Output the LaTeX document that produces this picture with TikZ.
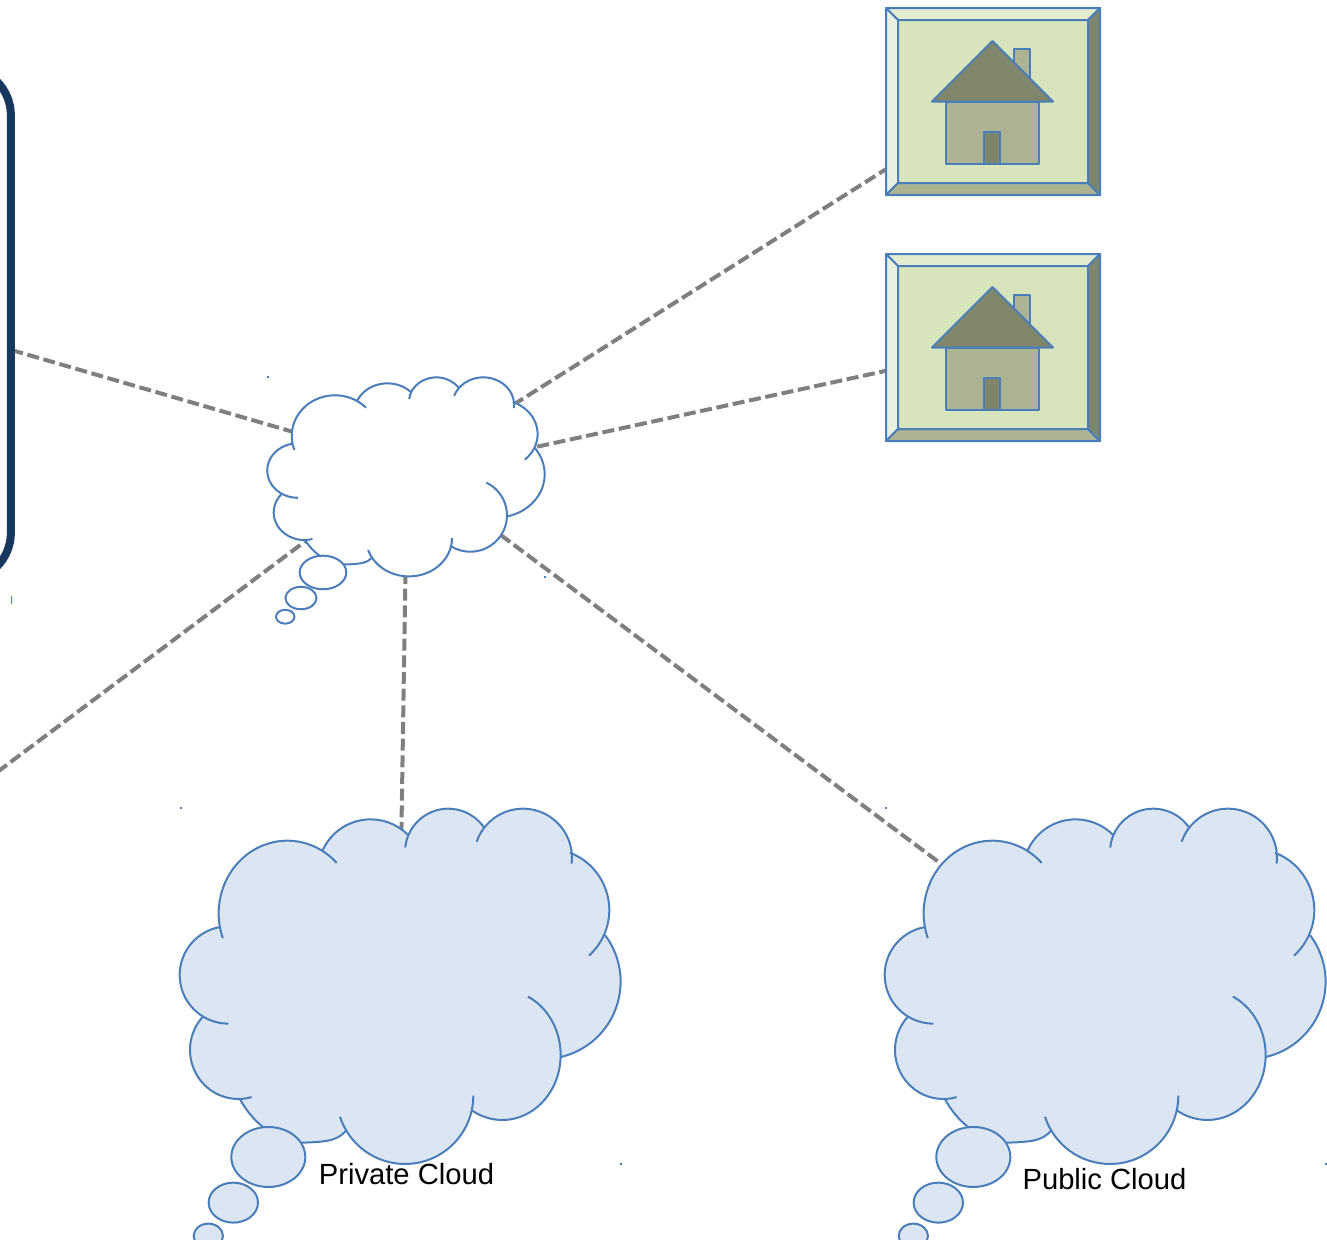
\documentclass[tikz,border=0pt]{standalone}
\usepackage{fontspec}
\setmainfont{Liberation Sans}
\definecolor{colorOutline}{HTML}{4A7EBB}
\definecolor{colorCloud}{HTML}{DCE6F2}
\definecolor{colorLink}{HTML}{7F7F7F}
\definecolor{colorPanel}{HTML}{17375E}
\definecolor{colorFace}{HTML}{D8E4BC}
\definecolor{colorTop}{HTML}{E3EBD0}
\definecolor{colorLeft}{HTML}{EAF0DF}
\definecolor{colorShade}{HTML}{ACB393}
\definecolor{colorDark}{HTML}{7F866B}
\usetikzlibrary{positioning}
\newcommand{\cloudlobes}{352/340/206/218/160/316, 602/216/158/158/204/315, 835/156/130/130/186/325,
  1059/173/147/147/199/367, 1134/330/184/184/291/408, 1120/545/232/232/323/437, 997/765/175/195/296/482,
  705/887/205/205/0/162, 205/750/145/147/74/222, 175/525/146/146/90/260}
\tikzset{
  linkline/.style={colorLink, line width=3pt, dash pattern=on 9pt off 3.5pt},
  outline/.style={draw=colorOutline, line width=1.5pt, line join=round},
  speck/.style={fill=colorOutline},
  cloudlabel/.style={font=\fontsize{21.9pt}{26pt}\selectfont, inner sep=0pt},
  pics/thought/.style={code={
    \fill[#1] (148,380) -- (458,152) -- (715,105) -- (942,82) -- (1200,158) -- (1305,405) -- (1172,768) -- (903,930) -- (530,990) .. controls (505,1018) and (485,1026) .. (395,1028) -- (280,982) .. controls (250,958) and (228,930) .. (210,898) -- (95,650) -- cycle;
    \foreach \cx/\cy/\rx/\ry/\sa/\ea in \cloudlobes
      \fill[#1] (\cx,\cy) ++(\sa:{\rx} and {\ry}) arc[start angle=\sa, end angle=\ea, x radius=\rx, y radius=\ry] -- (\cx,\cy) -- cycle;
    \foreach \cx/\cy/\rx/\ry/\sa/\ea in \cloudlobes
      \draw[outline] (\cx,\cy) ++(\sa:{\rx} and {\ry}) arc[start angle=\sa, end angle=\ea, x radius=\rx, y radius=\ry];
    \draw[outline] (530,990) .. controls (505,1018) and (485,1026) .. (395,1028);
    \draw[outline] (280,982) .. controls (250,958) and (228,930) .. (210,898);
    \path[outline, fill=#1] (295,1071) ellipse [x radius=111, y radius=90];
    \path[outline, fill=#1] (190,1208) ellipse [x radius=74, y radius=60];
    \path[outline, fill=#1] (115,1308) ellipse [x radius=44, y radius=37];
  }},
  pics/homebox/.style={code={
    \path[fill=colorFace] (-107,-93.5) rectangle (107,93.5);
    \path[outline, fill=colorTop] (-107,-93.5) -- (107,-93.5) -- (95,-81.5) -- (-95,-81.5) -- cycle;
    \path[outline, fill=colorLeft] (-107,-93.5) -- (-95,-81.5) -- (-95,81.5) -- (-107,93.5) -- cycle;
    \path[outline, fill=colorShade] (-107,93.5) -- (-95,81.5) -- (95,81.5) -- (107,93.5) -- cycle;
    \path[outline, fill=colorDark] (107,-93.5) -- (107,93.5) -- (95,81.5) -- (95,-81.5) -- cycle;
    \path[outline, fill=colorShade] (21.3,-53) rectangle (37.3,-20);
    \path[outline, fill=colorShade] (-46.7,0) rectangle (45.7,62.5);
    \path[outline, fill=colorDark] (-8.7,30) rectangle (7.3,62.5);
    \path[outline, fill=colorDark] (-0.5,-60.5) -- (60,0) -- (-61,0) -- cycle;
  }}
}
\begin{document}
\begin{tikzpicture}[x=0.75pt, y=-0.75pt]
\useasboundingbox (0,0) rectangle (1327,1239);
\clip (0,0) rectangle (1327,1239);
\coordinate (hub) at (407,472);
\coordinate (privCloud) at (399,987);
\coordinate (pubCloud) at (1106,987);
\coordinate (homeA) at (993,101.5);
\coordinate (homeB) at (993,347.5);
\coordinate (farEnd) at (-40,800);
\node[draw=colorPanel, line width=6pt, rounded corners=36pt, inner sep=0pt, minimum width=134.25pt, minimum height=385pt] (panel) at (-78.6,324) {};
\draw[linkline] ([yshift=5.25pt]hub) -- (panel);
\draw[linkline] ([yshift=5.25pt]hub) -- (farEnd);
\draw[linkline] (hub) -- (privCloud);
\draw[linkline] ([yshift=5.25pt]hub) -- (pubCloud);
\draw[linkline, dash phase=6pt] (hub) -- (homeA);
\draw[linkline] ([yshift=-2.25pt]hub) -- (homeB);
\pic at (homeA) {homebox};
\pic at (homeB) {homebox};
\pic[xscale=.2098, yscale=.1867] at (261.1,372.5) {thought=white};
\pic[xscale=.3333, yscale=.3333] at (170,800) {thought=colorCloud};
\pic[xscale=.3333, yscale=.3333] at (875,800) {thought=colorCloud};
\node[cloudlabel] (privLabel) at (406.5,1174) {Private Cloud};
\node[cloudlabel] (pubLabel) at (1104.5,1179) {Public Cloud};
\foreach \px/\py in {268/377, 545/577, 181/808, 886/808, 621/1164, 1326/1164}
  \fill[speck] (\px-1,\py-1) rectangle (\px+1,\py+1);
\fill[speck] (10.5,596) rectangle (12,604);
\end{tikzpicture}
\end{document}
